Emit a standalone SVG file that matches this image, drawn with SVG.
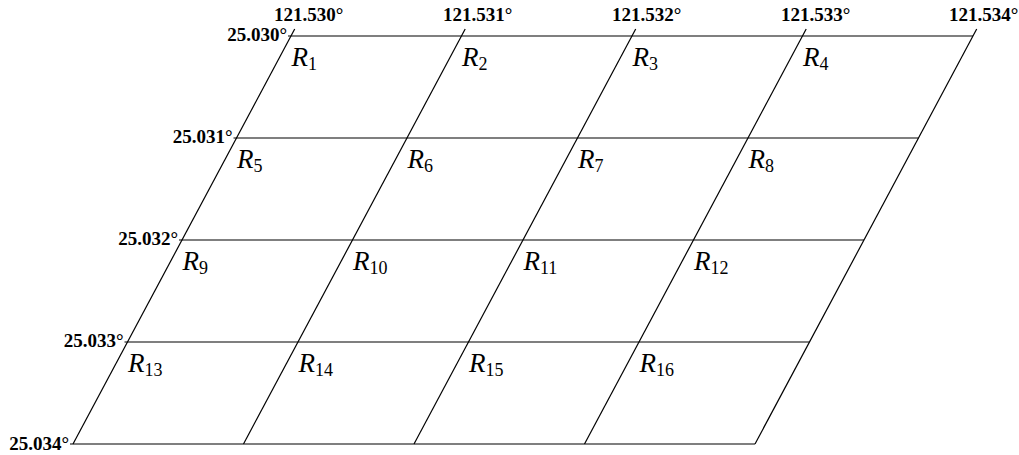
<svg xmlns="http://www.w3.org/2000/svg" width="1019" height="455" viewBox="0 0 1019 455">
<style>
.ln{stroke:#000;stroke-width:1.2;fill:none}
.lab{font-family:"Liberation Serif","Times New Roman",serif;font-weight:bold;font-size:19px;fill:#000}
.r{font-family:"Liberation Serif","Times New Roman",serif;font-style:italic;font-size:27px;fill:#000}
.sub{font-style:normal;font-size:18px}
</style>
<rect width="1019" height="455" fill="#fff"/>
<g id="connectors">
<line class="ln" x1="294.7" y1="29" x2="73" y2="444"/>
<line class="ln" x1="465.2" y1="29" x2="243.5" y2="444"/>
<line class="ln" x1="635.7" y1="29" x2="414" y2="444"/>
<line class="ln" x1="806.2" y1="29" x2="584.5" y2="444"/>
<line class="ln" x1="976.7" y1="29" x2="755" y2="444"/>
<line class="ln" x1="288" y1="36" x2="973" y2="36"/>
<line class="ln" x1="233.5" y1="138" x2="918.5" y2="138"/>
<line class="ln" x1="179" y1="240" x2="864" y2="240"/>
<line class="ln" x1="124.5" y1="342" x2="809.5" y2="342"/>
<line class="ln" x1="70" y1="444" x2="755" y2="444"/>
</g>
<g id="lat-labels" class="lab" text-anchor="end">
<text id="lat1" x="287" y="41">25.030°</text>
<text id="lat2" x="232.5" y="143">25.031°</text>
<text id="lat3" x="178" y="245">25.032°</text>
<text id="lat4" x="123.5" y="347">25.033°</text>
<text id="lat5" x="69" y="450">25.034°</text>
</g>
<g id="lon-labels" class="lab">
<text id="lon1" x="274" y="21">121.530°</text>
<text id="lon2" x="443" y="21">121.531°</text>
<text id="lon3" x="612" y="21">121.532°</text>
<text id="lon4" x="781" y="21">121.533°</text>
<text id="lon5" x="949" y="21">121.534°</text>
</g>
<g id="R1"><text class="r" x="291.5" y="66">R<tspan class="sub" dy="4">1</tspan></text></g>
<g id="R2"><text class="r" x="462" y="66">R<tspan class="sub" dy="4">2</tspan></text></g>
<g id="R3"><text class="r" x="632.5" y="66">R<tspan class="sub" dy="4">3</tspan></text></g>
<g id="R4"><text class="r" x="803" y="66">R<tspan class="sub" dy="4">4</tspan></text></g>
<g id="R5"><text class="r" x="237" y="168">R<tspan class="sub" dy="4">5</tspan></text></g>
<g id="R6"><text class="r" x="407.5" y="168">R<tspan class="sub" dy="4">6</tspan></text></g>
<g id="R7"><text class="r" x="578" y="168">R<tspan class="sub" dy="4">7</tspan></text></g>
<g id="R8"><text class="r" x="748.5" y="168">R<tspan class="sub" dy="4">8</tspan></text></g>
<g id="R9"><text class="r" x="182.5" y="270">R<tspan class="sub" dy="4">9</tspan></text></g>
<g id="R10"><text class="r" x="353" y="270">R<tspan class="sub" dy="4">10</tspan></text></g>
<g id="R11"><text class="r" x="523.5" y="270">R<tspan class="sub" dy="4">11</tspan></text></g>
<g id="R12"><text class="r" x="694" y="270">R<tspan class="sub" dy="4">12</tspan></text></g>
<g id="R13"><text class="r" x="128" y="372">R<tspan class="sub" dy="4">13</tspan></text></g>
<g id="R14"><text class="r" x="298.5" y="372">R<tspan class="sub" dy="4">14</tspan></text></g>
<g id="R15"><text class="r" x="469" y="372">R<tspan class="sub" dy="4">15</tspan></text></g>
<g id="R16"><text class="r" x="639.5" y="372">R<tspan class="sub" dy="4">16</tspan></text></g>
</svg>
